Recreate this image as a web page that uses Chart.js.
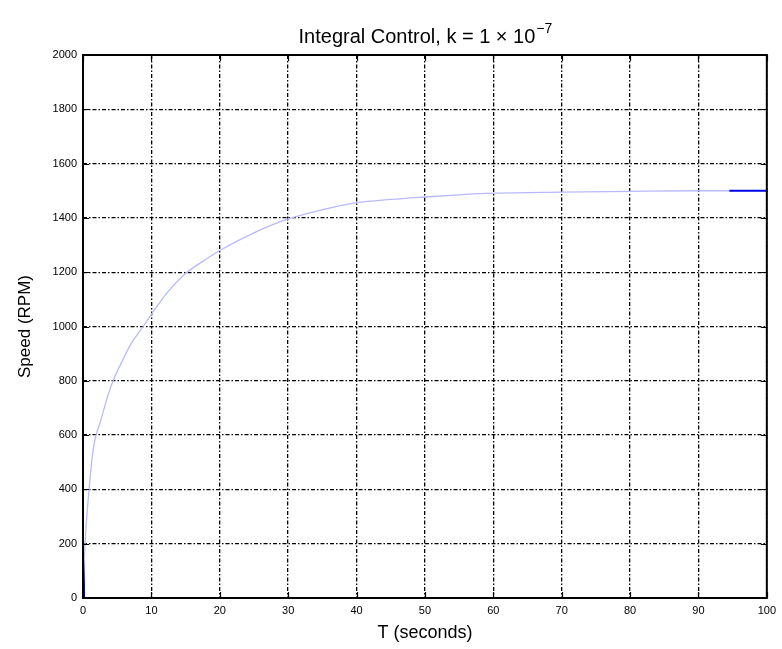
<!DOCTYPE html>
<html>
<head>
<meta charset="utf-8">
<script src="https://cdn.jsdelivr.net/npm/chart.js@4.4.1/dist/chart.umd.min.js"></script>
<style>
  html, body { margin: 0; padding: 0; background: #fff; }
  #wrap { width: 782px; height: 649px; }
</style>
</head>
<body>
<div id="wrap"><canvas id="myChart" width="782" height="649"></canvas></div>
<script>
// response curve
const timeValues  = [0, 0.2, 0.5, 1, 1.4, 1.9, 2.5, 3, 3.7, 4.4, 5.8, 7, 8.8, 10, 12.5, 15, 17.5, 20, 25, 30, 35, 40, 45, 50, 55, 60, 70, 80, 90, 94.5]
const speedValues = [0, 150, 280, 430, 530, 600, 645, 690, 750, 800, 876, 935, 1000, 1045, 1130, 1195, 1240, 1280, 1345, 1396, 1430, 1456, 1468, 1477, 1485, 1491, 1495, 1498, 1500, 1500]
// dark blue pieces: start of the step and the final value
const darkTimes  = [0.15, 0.15, null, 94.5, 100]
const darkSpeeds = [0, 140, null, 1500, 1500]
const xTicks = [0, 10, 20, 30, 40, 50, 60, 70, 80, 90, 100]
const yTicks = [0, 200, 400, 600, 800, 1000, 1200, 1400, 1600, 1800, 2000]

const lightData = timeValues.map((t, i) => ({x: t, y: speedValues[i]}))
const darkData = darkTimes.map((t, i) => t === null ? {x: NaN, y: NaN} : ({x: t, y: darkSpeeds[i]}))

const fontFam = '"Liberation Sans", Arial, Helvetica, sans-serif'

// box round the plot, inner tick marks and the title with its exponent
const matlabLook = {
  id: 'matlabLook',
  afterDraw(chart) {
    const ctx = chart.ctx
    const a = chart.chartArea
    const xs = chart.scales.x, ys = chart.scales.y
    ctx.save()
    ctx.strokeStyle = '#000'
    ctx.lineWidth = 1.2
    ctx.beginPath()
    xTicks.forEach(v => {
      const px = Math.round(xs.getPixelForValue(v)) + 0.5
      ctx.moveTo(px, a.bottom); ctx.lineTo(px, a.bottom - 6)
      ctx.moveTo(px, a.top); ctx.lineTo(px, a.top + 6)
    })
    yTicks.forEach(v => {
      const py = Math.round(ys.getPixelForValue(v)) + 0.5
      ctx.moveTo(a.left, py); ctx.lineTo(a.left + 6, py)
      ctx.moveTo(a.right, py); ctx.lineTo(a.right - 6, py)
    })
    ctx.stroke()
    ctx.lineWidth = 2
    ctx.strokeRect(a.left, a.top, a.right - a.left, a.bottom - a.top)

    // title
    const main = 'Integral Control, k = 1 \u00d7 10'
    const sup = '\u22127'
    ctx.fillStyle = '#000'
    ctx.textBaseline = 'alphabetic'
    ctx.font = '20px ' + fontFam
    const w1 = ctx.measureText(main).width
    ctx.font = '14px ' + fontFam
    const w2 = ctx.measureText(sup).width
    const x0 = (a.left + a.right) / 2 - (w1 + w2) / 2
    ctx.font = '20px ' + fontFam
    ctx.textAlign = 'left'
    ctx.fillText(main, x0, 43)
    ctx.font = '14px ' + fontFam
    ctx.fillText(sup, x0 + w1 + 1, 33)
    ctx.restore()
  }
}

const gridStyle = {
  color: '#000',
  lineWidth: 1.3,
  drawTicks: false
}

new Chart(document.getElementById('myChart'), {
  type: 'line',
  data: {
    datasets: [
      {
        label: 'speed',
        data: lightData,
        borderColor: 'rgb(185,185,255)',
        borderWidth: 1.3,
        pointRadius: 0,
        cubicInterpolationMode: 'monotone',
        fill: false
      },
      {
        label: 'final',
        data: darkData,
        borderColor: 'rgb(0,0,235)',
        borderWidth: 2,
        pointRadius: 0,
        spanGaps: false,
        fill: false
      }
    ]
  },
  options: {
    responsive: false,
    animation: false,
    layout: { padding: { top: 55, right: 14, bottom: 0, left: 0 } },
    plugins: { legend: { display: false }, tooltip: { enabled: false } },
    scales: {
      x: {
        type: 'linear',
        min: 0, max: 100,
        afterBuildTicks: s => { s.ticks = xTicks.map(v => ({value: v})) },
        afterFit: s => { s.height = 51 },
        grid: gridStyle,
        border: { display: false, dash: [4, 2, 1.5, 2] },
        ticks: { color: '#000', padding: 6, maxRotation: 0, callback: v => String(v), font: { family: fontFam, size: 11 } },
        title: { display: true, text: 'T (seconds)', color: '#000', padding: { top: 0, bottom: 5 }, font: { family: fontFam, size: 18 } }
      },
      y: {
        type: 'linear',
        min: 0, max: 2000,
        afterBuildTicks: s => { s.ticks = yTicks.map(v => ({value: v})) },
        afterFit: s => { s.width = 83 },
        grid: gridStyle,
        border: { display: false, dash: [4, 2, 1.5, 2] },
        ticks: { color: '#000', padding: 6, callback: v => String(v), font: { family: fontFam, size: 11 } },
        title: { display: true, text: 'Speed (RPM)', color: '#000', padding: { top: 15, bottom: 0 }, font: { family: fontFam, size: 17 } }
      }
    }
  },
  plugins: [matlabLook]
})
</script>
</body>
</html>
